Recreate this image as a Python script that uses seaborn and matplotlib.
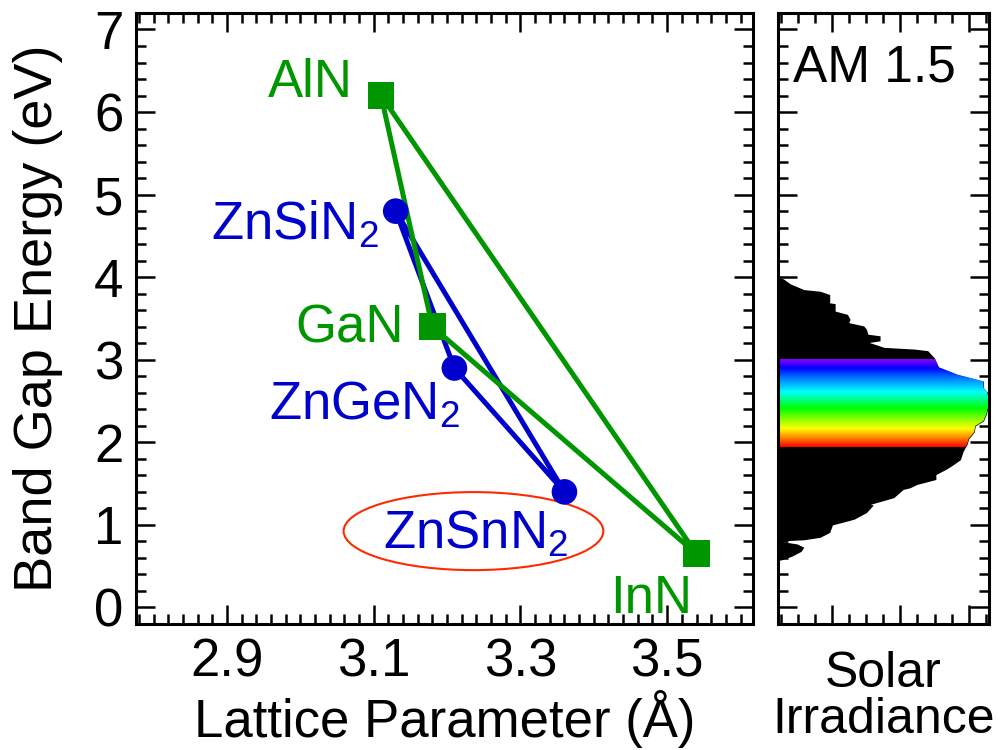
import numpy as np
import matplotlib
matplotlib.use("Agg")
import matplotlib.pyplot as plt
import seaborn as sns
from matplotlib.patches import Ellipse
from matplotlib.ticker import MultipleLocator
from matplotlib.colors import LinearSegmentedColormap

# III-nitrides (squares) and Zn-IV-nitrides (circles): lattice parameter vs band gap
nitride_names = ["AlN", "GaN", "InN"]
nitride_a = [3.11, 3.18, 3.54]
nitride_gap = [6.2, 3.4, 0.65]

zn_names = ["ZnSiN$_2$", "ZnGeN$_2$", "ZnSnN$_2$"]
zn_a = [3.13, 3.21, 3.36]
zn_gap = [4.8, 2.9, 1.4]

# AM 1.5 solar irradiance profile (arbitrary units) versus photon energy (eV)
solar_energy = [4.00, 3.98, 3.92, 3.85, 3.83, 3.79, 3.69, 3.68, 3.59, 3.55,
                3.49, 3.45, 3.41, 3.37, 3.31, 3.29, 3.23, 3.21, 3.15, 3.13,
                3.11, 3.02, 2.91, 2.82, 2.74, 2.66, 2.60, 2.46, 2.34, 2.26,
                2.20, 2.12, 2.04, 1.98, 1.89, 1.79, 1.71, 1.67, 1.61, 1.55,
                1.49, 1.45, 1.43, 1.33, 1.25, 1.24, 1.15, 1.07, 1.03, 1.00,
                0.91, 0.85, 0.82, 0.805, 0.80, 0.77, 0.73, 0.68, 0.62, 0.575,
                0.57]
solar_irradiance = [0.00, 0.04, 0.09, 0.19, 0.31, 0.38, 0.38, 0.42, 0.42, 0.51,
                    0.53, 0.52, 0.63, 0.65, 0.66, 0.75, 0.75, 0.67, 0.78, 1.00,
                    1.10, 1.15, 1.18, 1.32, 1.51, 1.51, 1.54, 1.55, 1.53, 1.51,
                    1.45, 1.44, 1.40, 1.39, 1.36, 1.34, 1.27, 1.23, 1.16, 1.16,
                    1.02, 0.97, 0.92, 0.85, 0.68, 0.70, 0.65, 0.56, 0.47, 0.40,
                    0.38, 0.31, 0.19, 0.00, 0.02, 0.14, 0.19, 0.17, 0.10, 0.02,
                    0.00]
visible_band = [1.94, 3.00]

GREEN = "#009600"
BLUE = "#0000cc"
RED = "#ff2a00"
FS = 38

sns.set_theme(style="ticks")
plt.rcParams["font.family"] = ["Liberation Sans", "DejaVu Sans"]
plt.rcParams.update({
    "mathtext.fontset": "custom",
    "mathtext.rm": "Liberation Sans",
    "mathtext.it": "Liberation Sans:italic",
    "mathtext.bf": "Liberation Sans:bold",
    "axes.linewidth": 2.2,
    "axes.edgecolor": "black",
    "text.color": "black",
    "axes.labelcolor": "black",
    "xtick.color": "black",
    "ytick.color": "black",
})

fig = plt.figure(figsize=(10.02, 7.5), dpi=100)
ax = fig.add_axes([0.1357, 0.168, 0.6158, 0.8147])
ax2 = fig.add_axes([0.7764, 0.168, 0.2106, 0.8147])


def style_ticks(a):
    a.tick_params(which="both", direction="in", top=True, right=True,
                  bottom=True, left=True, colors="black", width=1.8)
    a.tick_params(which="major", length=13.5)
    a.tick_params(which="minor", length=7.2)


# --- left panel ------------------------------------------------------------
def closed(v):
    return list(v) + [v[0]]


sns.lineplot(x=closed(zn_a), y=closed(zn_gap), sort=False, estimator=None,
             color=BLUE, linewidth=3.6, ax=ax, zorder=2)
sns.lineplot(x=closed(nitride_a), y=closed(nitride_gap), sort=False,
             estimator=None, color=GREEN, linewidth=3.6, ax=ax, zorder=3)
sns.scatterplot(x=zn_a, y=zn_gap, marker="o", s=340, color=BLUE,
                edgecolor="none", ax=ax, zorder=4)
sns.scatterplot(x=nitride_a, y=nitride_gap, marker="s", s=370, color=GREEN,
                edgecolor="none", ax=ax, zorder=5)

label_offsets = {
    "AlN": (-20.5, -1.4, "right"),
    "GaN": (-20.5, -11.7, "right"),
    "InN": (-3.5, -42.3, "right"),
    "ZnSiN$_2$": (-12.6, -20.4, "right"),
    "ZnGeN$_2$": (4.3, -37.4, "right"),
    "ZnSnN$_2$": (2.7, -40.5, "right"),
}
for names, xs, ys, col in [(nitride_names, nitride_a, nitride_gap, GREEN),
                           (zn_names, zn_a, zn_gap, BLUE)]:
    for n, x, y in zip(names, xs, ys):
        dx, dy, ha = label_offsets[n]
        ax.annotate(n, (x, y), xytext=(dx, dy), textcoords="offset points",
                    ha=ha, va="baseline", color=col, fontsize=FS, zorder=6)

# highlight ring around the ZnSnN2 label
ax.add_patch(Ellipse((zn_a[2] - 0.124, zn_gap[2] - 0.475), 0.354, 0.945,
                     fill=False, edgecolor=RED, linewidth=1.5, zorder=1))

ax.set_xlim(2.776, 3.617)
ax.set_ylim(-0.2, 7.2)
ax.xaxis.set_major_locator(MultipleLocator(0.2, offset=0.1))
ax.xaxis.set_minor_locator(MultipleLocator(0.02))
ax.yaxis.set_major_locator(MultipleLocator(1))
ax.yaxis.set_minor_locator(MultipleLocator(0.2))
style_ticks(ax)
ax.tick_params(axis="both", which="major", labelsize=38)
ax.tick_params(axis="x", which="major", pad=10)
ax.tick_params(axis="y", which="major", pad=9)
ax.set_xlabel("Lattice Parameter (Å)", fontsize=38)
ax.set_ylabel("Band Gap Energy (eV)", fontsize=39)
ax.xaxis.set_label_coords(0.5, -0.108)
ax.yaxis.set_label_coords(-0.118, 0.5)

# --- right panel: solar spectrum -------------------------------------------
xmax_irr = 1.55
spec = ax2.fill_betweenx(solar_energy, 0, solar_irradiance, color="black",
                         linewidth=0, zorder=1)
rainbow = LinearSegmentedColormap.from_list(
    "visible",
    [(0.0, (1.0, 0.0, 0.0)), (0.10, (1.0, 0.5, 0.0)), (0.21, (1.0, 1.0, 0.0)),
     (0.44, (0.0, 1.0, 0.0)), (0.63, (0.0, 1.0, 1.0)), (0.78, (0.0, 0.5, 1.0)),
     (0.90, (0.0, 0.0, 1.0)), (1.0, (0.55, 0.0, 1.0))])
grad = np.linspace(0, 1, 256).reshape(-1, 1)
im = ax2.imshow(grad, cmap=rainbow, origin="lower", aspect="auto",
                extent=(0, xmax_irr, visible_band[0], visible_band[1]),
                interpolation="bilinear", zorder=2)
im.set_clip_path(spec.get_paths()[0], transform=ax2.transData)

ax2.set_xlim(0, xmax_irr)
ax2.set_ylim(-0.2, 7.2)
ax2.xaxis.set_major_locator(MultipleLocator(0.5, offset=0.4))
ax2.xaxis.set_minor_locator(MultipleLocator(0.125, offset=0.025))
ax2.yaxis.set_major_locator(MultipleLocator(1))
ax2.yaxis.set_minor_locator(MultipleLocator(0.2))
style_ticks(ax2)
ax2.tick_params(labelbottom=False, labelleft=False)
ax2.set_xlabel("Solar\nIrradiance", fontsize=36, linespacing=0.98)
ax2.xaxis.set_label_coords(0.5, -0.045)
ax2.text(0.07, 0.91, "AM 1.5", transform=ax2.transAxes, fontsize=37,
         ha="left", va="center")

fig.savefig("out.png", dpi=100)
